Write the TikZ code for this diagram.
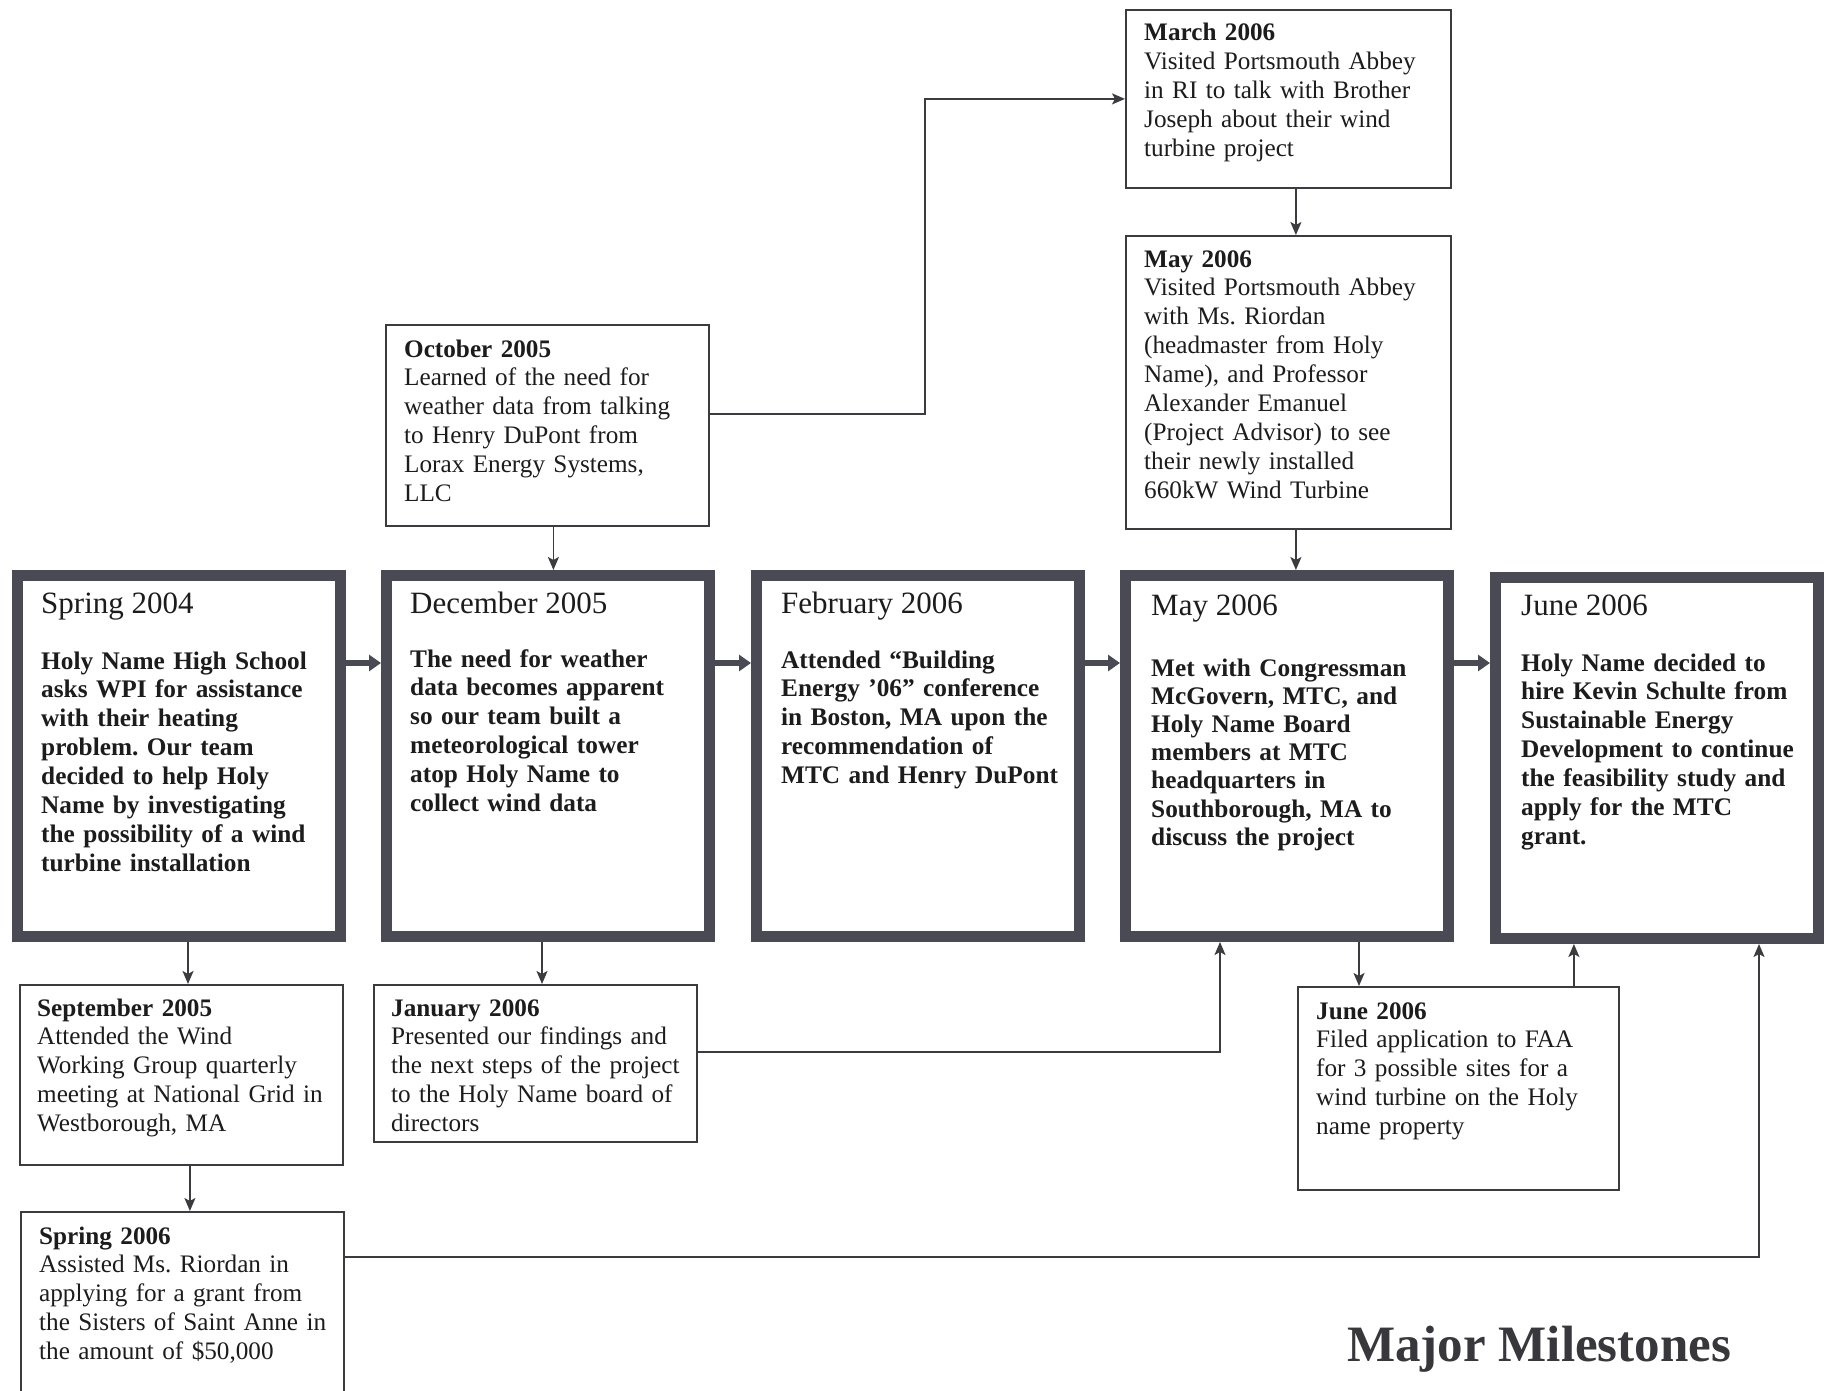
\documentclass[tikz,border=0pt]{standalone}
\usepackage{fontspec}
\setmainfont{Liberation Serif}
\usetikzlibrary{arrows.meta}
\definecolor{framegray}{RGB}{74,74,84}
\definecolor{inkc}{RGB}{28,28,28}
\definecolor{linegray}{RGB}{60,60,64}
\frenchspacing
\begin{document}
\begin{tikzpicture}[x=1pt,y=-1pt,
  thickbox/.style={draw=framegray, line width=11pt, fill=white, minimum width=323pt, minimum height=361pt, inner sep=0pt, outer sep=5.5pt, anchor=north west},
  thinbox/.style={draw=linegray, line width=1.8pt, fill=white, inner sep=0pt, outer sep=0.9pt, anchor=north west},
  smalltext/.style={anchor=base west, inner sep=0pt, text width=310pt, align=left, text=inkc, font=\fontsize{25.2}{28.9}\selectfont},
  maintitle/.style={anchor=base west, inner sep=0pt, text=inkc, font=\fontsize{31}{36}\selectfont},
  mainbody/.style={anchor=base west, inner sep=0pt, text width=300pt, align=left, text=inkc, font=\bfseries\fontsize{25.3}{28.9}\selectfont},
  conn/.style={draw=linegray, line width=1.8pt, -{Stealth[length=13pt,width=11pt,inset=3pt]}},
  bigarrow/.style={draw=framegray, line width=6pt, -{Triangle[length=12pt,width=16pt]}}
]
\fill[white] (0,0) rectangle (1834,1391);
\useasboundingbox (0,0) rectangle (1834,1391);

% main boxes
\node[thickbox] (m1) at (12,570) {};
\node[thickbox] (m2) at (381,570) {};
\node[thickbox] (m3) at (751,570) {};
\node[thickbox] (m4) at (1120,570) {};
\node[thickbox] (m5) at (1490,572) {};

\node[maintitle] (m1t) at (41,613) {Spring 2004};
\node[mainbody] (m1b) at (41,669) {Holy Name High School\\asks WPI for assistance\\with their heating\\problem. Our team\\decided to help Holy\\Name by investigating\\the possibility of a wind\\turbine installation};

\node[maintitle] (m2t) at (410,613) {December 2005};
\node[mainbody] (m2b) at (410,667) {The need for weather\\data becomes apparent\\so our team built a\\meteorological tower\\atop Holy Name to\\collect wind data};

\node[maintitle] (m3t) at (781,613) {February 2006};
\node[mainbody] (m3b) at (781,668) {Attended “Building\\Energy ’06” conference\\in Boston, MA upon the\\recommendation of\\MTC and Henry DuPont};

\node[maintitle] (m4t) at (1151,615) {May 2006};
\node[mainbody, font=\bfseries\fontsize{25.3}{28.2}\selectfont] (m4b) at (1151,676) {Met with Congressman\\McGovern, MTC, and\\Holy Name Board\\members at MTC\\headquarters in\\Southborough, MA to\\discuss the project};

\node[maintitle] (m5t) at (1521,615) {June 2006};
\node[mainbody] (m5b) at (1521,671) {Holy Name decided to\\hire Kevin Schulte from\\Sustainable Energy\\Development to continue\\the feasibility study and\\apply for the MTC\\grant.};

% thin boxes
\node[thinbox, minimum width=323pt, minimum height=201pt] (oct) at (385,324) {};
\node[smalltext] (octt) at (404,357) {\textbf{October 2005}\\Learned of the need for\\weather data from talking\\to Henry DuPont from\\Lorax Energy Systems,\\LLC};

\node[thinbox, minimum width=325pt, minimum height=178pt] (mar) at (1125,9) {};
\node[smalltext] (mart) at (1144,41) {\textbf{March 2006}\\Visited Portsmouth Abbey\\in RI to talk with Brother\\Joseph about their wind\\turbine project};

\node[thinbox, minimum width=325pt, minimum height=293pt] (may) at (1125,235) {};
\node[smalltext] (mayt) at (1144,267) {\textbf{May 2006}\\Visited Portsmouth Abbey\\with Ms. Riordan\\(headmaster from Holy\\Name), and Professor\\Alexander Emanuel\\(Project Advisor) to see\\their newly installed\\660kW Wind Turbine};

\node[thinbox, minimum width=323pt, minimum height=180pt] (sep) at (19,984) {};
\node[smalltext] (sept) at (37,1016) {\textbf{September 2005}\\Attended the Wind\\Working Group quarterly\\meeting at National Grid in\\Westborough, MA};

\node[thinbox, minimum width=323pt, minimum height=157pt] (jan) at (373,984) {};
\node[smalltext] (jant) at (391,1016) {\textbf{January 2006}\\Presented our findings and\\the next steps of the project\\to the Holy Name board of\\directors};

\node[thinbox, minimum width=321pt, minimum height=203pt] (jun) at (1297,986) {};
\node[smalltext] (junt) at (1316,1019) {\textbf{June 2006}\\Filed application to FAA\\for 3 possible sites for a\\wind turbine on the Holy\\name property};

\node[thinbox, minimum width=323pt, minimum height=198pt] (spr) at (20,1211) {};
\node[smalltext] (sprt) at (39,1244) {\textbf{Spring 2006}\\Assisted Ms. Riordan in\\applying for a grant from\\the Sisters of Saint Anne in\\the amount of \$50,000};

% title
\node[anchor=base west, inner sep=0pt, text={rgb,255:red,55;green,55;blue,60}, font=\bfseries\fontsize{51}{60}\selectfont] (title) at (1347,1361) {Major Milestones};

% thick arrows between main boxes
\draw[bigarrow] ([yshift=93pt]m1.east) -- ([yshift=93pt]m1.east -| m2.west);
\draw[bigarrow] ([yshift=93pt]m2.east) -- ([yshift=93pt]m2.east -| m3.west);
\draw[bigarrow] ([yshift=93pt]m3.east) -- ([yshift=93pt]m3.east -| m4.west);
\draw[bigarrow] ([yshift=93pt]m4.east) -- ([yshift=93pt]m4.east -| m5.west);

% thin connectors
\coordinate (jog1) at (925,0);
\draw[conn] ([yshift=11.5pt]oct.east) -| (jog1 |- mar.west) -- (mar.west);
\draw[conn] ([xshift=6pt]oct.south) -- ([xshift=6pt]oct.south |- m2.north);
\draw[conn] ([xshift=7.5pt]mar.south) -- ([xshift=7.5pt]mar.south |- may.north);
\draw[conn] ([xshift=7.5pt]may.south) -- ([xshift=7.5pt]may.south |- m4.north);
\draw[conn] ([xshift=9pt]m1.south) -- ([xshift=9pt]m1.south |- sep.north);
\draw[conn] ([xshift=8.5pt]sep.south) -- ([xshift=8.5pt]sep.south |- spr.north);
\draw[conn] ([xshift=-6pt]m2.south) -- ([xshift=-6pt]m2.south |- jan.north);
\draw[conn] ([yshift=11.5pt]jan.east) -| ([xshift=-67pt]m4.south);
\draw[conn] ([xshift=72pt]m4.south) -- ([xshift=72pt]m4.south |- jun.north);
\draw[conn] ([xshift=115.5pt]jun.north) -- ([xshift=115.5pt]jun.north |- m5.south);
\draw[conn] ([yshift=54pt]spr.east) -| ([xshift=102pt]m5.south);
\end{tikzpicture}
\end{document}
